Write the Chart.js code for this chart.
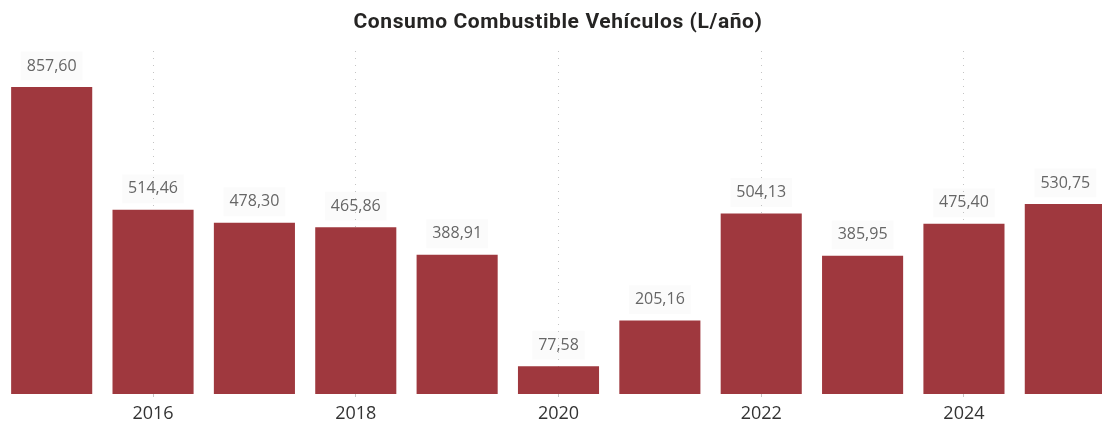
<!DOCTYPE html>
<html>
<head>
<meta charset="utf-8">
<script src="https://cdn.jsdelivr.net/npm/chart.js@4"></script>
<style>
html,body{margin:0;padding:0;background:#fff;overflow:hidden;width:1102px;height:425px;}
#wrap{width:1116px;height:425px;position:relative;}
</style>
</head>
<body>
<div id="wrap"><canvas id="c" width="1116" height="425"></canvas></div>
<script>
const categories = ['2015','2016','2017','2018','2019','2020','2021','2022','2023','2024','2025'];
const values = [857.60, 514.46, 478.30, 465.86, 388.91, 77.58, 205.16, 504.13, 385.95, 475.40, 530.75];
const tickLabels = ['2016','2018','2020','2022','2024'];
const titleText = 'Consumo Combustible Vehículos (L/año)';

const barColor = '#9F383E';

const labelPlugin = {
  id: 'barLabels',
  afterDatasetsDraw(chart) {
    const ctx = chart.ctx;
    const meta = chart.getDatasetMeta(0);
    ctx.save();
    ctx.font = '16px "Open Sans", "Segoe UI", sans-serif';
    ctx.textAlign = 'center';
    ctx.textBaseline = 'middle';
    meta.data.forEach((bar, i) => {
      const txt = values[i].toFixed(2).replace('.', ',');
      const w = ctx.measureText(txt).width;
      const cy = bar.y - 21;
      ctx.fillStyle = 'rgba(0,0,0,0.015)';
      ctx.fillRect(bar.x - w/2 - 6, cy - 14.5, w + 12, 29);
      ctx.fillStyle = '#666666';
      ctx.fillText(txt, bar.x, cy);
    });
    ctx.restore();
  }
};

const titlePlugin = {
  id: 'customTitle',
  afterDraw(chart) {
    const ctx = chart.ctx;
    ctx.save();
    ctx.font = 'bold 21px Roboto, sans-serif';
    try { ctx.letterSpacing = '0.6px'; } catch (e) {}
    ctx.textAlign = 'center';
    ctx.textBaseline = 'alphabetic';
    ctx.fillStyle = '#252423';
    ctx.fillText(titleText, chart.width / 2, 28);
    ctx.restore();
  }
};

new Chart(document.getElementById('c'), {
  type: 'bar',
  data: {
    labels: categories,
    datasets: [{
      data: values,
      backgroundColor: barColor,
      borderWidth: 0,
      barPercentage: 0.8,
      categoryPercentage: 1.0
    }]
  },
  options: {
    responsive: false,
    devicePixelRatio: 1,
    animation: false,
    layout: { padding: { top: 51, left: 1, right: 0, bottom: 0 } },
    plugins: { legend: { display: false }, title: { display: false }, tooltip: { enabled: false } },
    scales: {
      y: { display: false, min: 0, max: 958 },
      x: {
        border: { display: false, dash: [1, 6] },
        afterFit(scale) { scale.height = 31; },
        grid: {
          offset: false,
          drawTicks: true,
          tickLength: 3,
          lineWidth: 1,
          color: (c) => tickLabels.includes(categories[c.index]) ? '#c4c4c4' : 'rgba(0,0,0,0)'
        },
        ticks: {
          autoSkip: false,
          maxRotation: 0,
          padding: 6,
          color: '#333333',
          font: { family: '"Open Sans", "Segoe UI", sans-serif', size: 18 },
          callback: function(v, i) { const l = categories[i]; return tickLabels.includes(l) ? l : ''; }
        }
      }
    }
  },
  plugins: [labelPlugin, titlePlugin]
});
</script>
</body>
</html>
